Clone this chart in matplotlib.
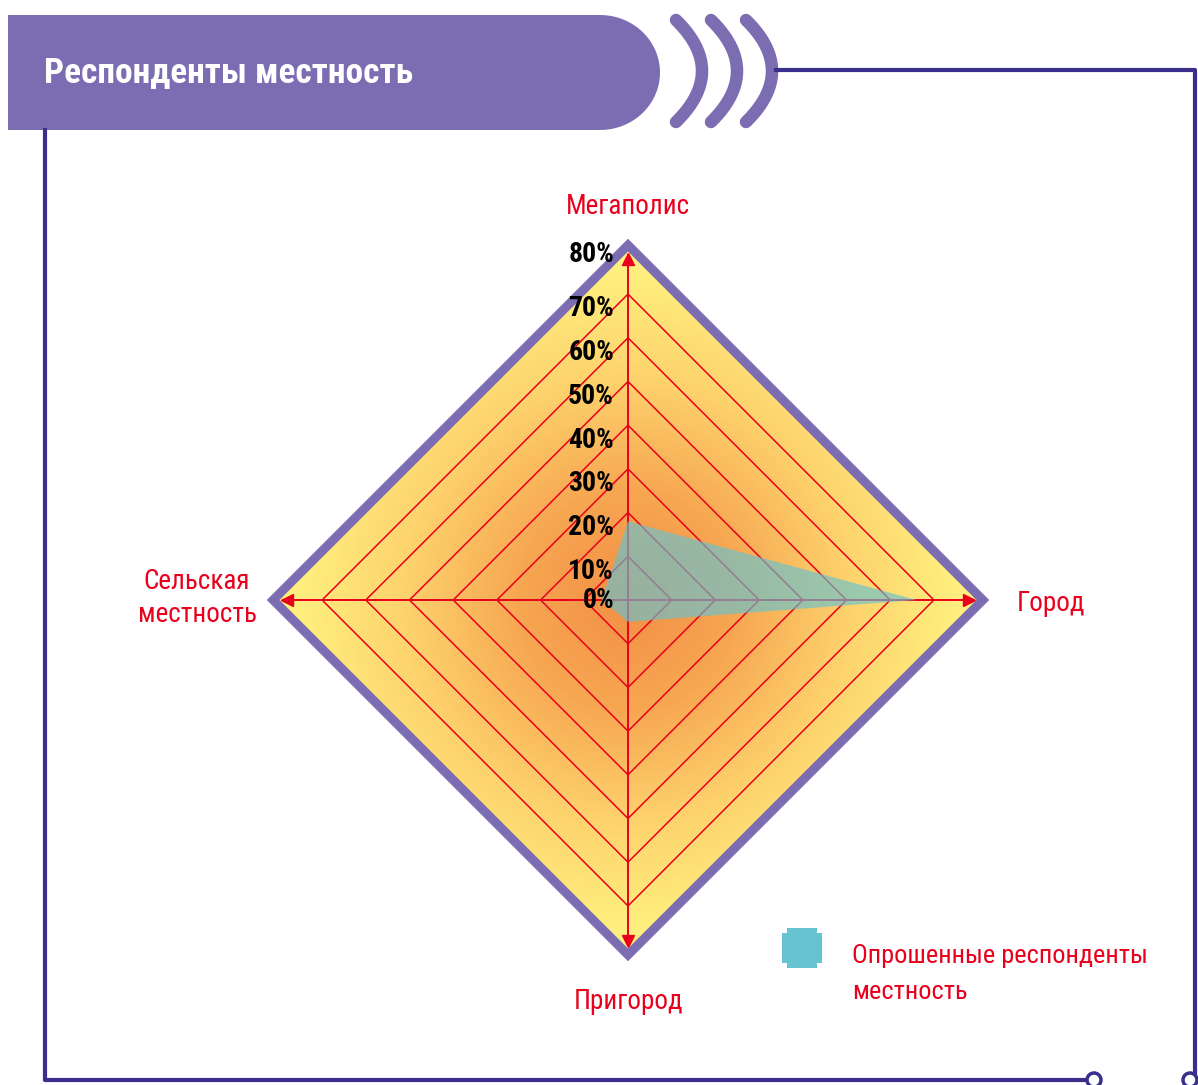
import numpy as np
import matplotlib
matplotlib.use("Agg")
import matplotlib.pyplot as plt
from matplotlib import patches
from matplotlib import font_manager
from matplotlib.colors import LinearSegmentedColormap

# data
categories = ["Мегаполис", "Город", "Пригород", "Сельская\nместность"]
values = [18, 66, 5, 6]          # % respondents
ticks = [0, 10, 20, 30, 40, 50, 60, 70, 80]
tick_labels = ["0%", "10%", "20%", "30%", "40%", "50%", "60%", "70%", "80%"]
title = "Респонденты местность"
legend_label = "Опрошенные респонденты\nместность"

# pick a narrow font if there is one
names = set(f.name for f in font_manager.fontManager.ttflist)
narrow = "DejaVu Sans"
for n in ["Liberation Sans Narrow", "DejaVu Sans Condensed", "Roboto Condensed", "Open Sans Condensed"]:
    if n in names:
        narrow = n
        break
plt.rcParams['font.family'] = [narrow, 'DejaVu Sans']

W, H = 1198, 1085
fig = plt.figure(figsize=(W / 100, H / 100), dpi=100)

purple = "#7c6db2"
navy = "#3b2f8c"
red = "#e8001c"
teal = "#66c3d0"

# decoration axes in pixel units
deco = fig.add_axes([0, 0, 1, 1])
deco.set_xlim(0, W)
deco.set_ylim(H, 0)
deco.axis('off')

# header bar with rounded right end
t = np.linspace(np.pi / 2, -np.pi / 2, 60)
cx, cy, rx, ry = 600, 72.5, 60, 57.5
pts = [(8, 15)] + list(zip(cx + rx * np.cos(t), cy - ry * np.sin(t))) + [(8, 130)]
deco.add_patch(patches.Polygon(pts, closed=True, color=purple, lw=0))
deco.text(44, 73, title, color="white", fontsize=25.5, fontweight="bold", va="center", ha="left")

# three arcs
s = np.linspace(-1, 1, 50)
for x0 in [676, 711, 746]:
    deco.plot(x0 + 26 * (1 - s ** 2), 71 + 51 * s, color=purple, lw=9, solid_capstyle="round")

# frame lines
deco.plot([776, 1195, 1195], [70, 70, 1073], color=navy, lw=3)
deco.plot([45, 45, 1087], [130, 1080, 1080], color=navy, lw=3)
for px, py in [(1094, 1080), (1190, 1080)]:
    deco.add_patch(patches.Circle((px, py), 7, facecolor="white", edgecolor=navy, lw=2.5, zorder=5))

# legend swatch and text
sq = [(782, 933), (787, 933), (787, 928), (817, 928), (817, 933), (822, 933),
      (822, 963), (817, 963), (817, 968), (787, 968), (787, 963), (782, 963)]
deco.add_patch(patches.Polygon(sq, closed=True, color=teal, lw=0))
deco.text(852, 974, legend_label, color=red, fontsize=19, va="center", ha="left", linespacing=1.6)

# radar axes in percent units, centre at (628, 600) px, 4.37 px per %
R = 90
k = 4.37
half = R * k
ax = fig.add_axes([(628 - half) / W, (H - 600 - half) / H, 2 * half / W, 2 * half / H])
ax.set_xlim(-R, R)
ax.set_ylim(-R, R)
ax.axis('off')

rmax = ticks[-1]

def diamond(v):
    return [(0, v), (v, 0), (0, -v), (-v, 0)]

# gradient fill clipped to the outer diamond
g = np.linspace(-rmax, rmax, 400)
X, Y = np.meshgrid(g, g)
D = np.sqrt(X ** 2 + Y ** 2) / rmax
cmap = LinearSegmentedColormap.from_list("og", ["#f28f45", "#f7a752", "#fdd26d", "#fff07f"])
outer = patches.Polygon(diamond(rmax), closed=True, facecolor="none", edgecolor="none")
ax.add_patch(outer)
im = ax.imshow(D, extent=[-rmax, rmax, -rmax, rmax], origin="lower", cmap=cmap,
               vmin=0, vmax=0.95, zorder=0, interpolation="bilinear")
im.set_clip_path(outer)

# purple border
ax.add_patch(patches.Polygon(diamond(rmax + 1.2), closed=True, fill=False,
                             edgecolor=purple, lw=6.5, joinstyle="miter", zorder=3))

# red rings and axes
for v in ticks[1:-1]:
    ax.add_patch(patches.Polygon(diamond(v), closed=True, fill=False, edgecolor=red, lw=1.1, zorder=1))
for dx, dy, m in [(0, 1, "^"), (1, 0, ">"), (0, -1, "v"), (-1, 0, "<")]:
    ax.plot([0, dx * (rmax - 1)], [0, dy * (rmax - 1)], color=red, lw=1.4, zorder=1)
    ax.plot(dx * (rmax - 2), dy * (rmax - 2), marker=m, color=red, ms=9, zorder=2)

# data polygon
data_pts = [(0, values[0]), (values[1], 0), (0, -values[2]), (-values[3], 0)]
ax.add_patch(patches.Polygon(data_pts, closed=True, facecolor=teal, alpha=0.65, lw=0, zorder=2))

# tick labels
for v, lab in zip(ticks, tick_labels):
    if v == 0:
        y = 0
    elif v == rmax:
        y = v - 1
    else:
        y = v - 3.4
    ax.text(-3.2, y, lab, ha="right", va="center", fontsize=20,
            fontweight="bold", color="black", zorder=4)

# category labels
ax.text(0, 87, categories[0], color=red, fontsize=19.5, ha="center", va="bottom", clip_on=False)
ax.text(89, -0.7, categories[1], color=red, fontsize=19.5, ha="left", va="center", clip_on=False)
ax.text(0, -88.8, categories[2], color=red, fontsize=19.5, ha="center", va="top", clip_on=False)
ax.text(-85, 0.4, categories[3], color=red, fontsize=19.5, ha="right", va="center",
        multialignment="center", linespacing=1.3, clip_on=False)

fig.savefig("out.png", dpi=100)
